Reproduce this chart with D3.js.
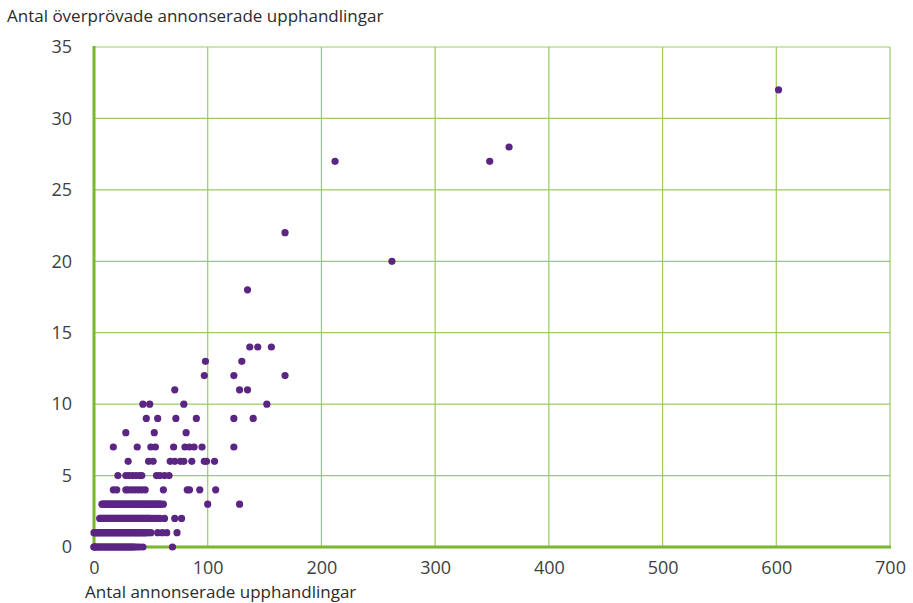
<!DOCTYPE html>
<head>
  <meta charset="utf-8">
  <title>Överprövade upphandlingar</title>
  <style>
    body { margin: 0; background: #fff; }
    .grid line { stroke: #9ccb5e; stroke-width: 1.2px; }
    .axisline { stroke: #79b72c; stroke-width: 3px; }
    .tick text { font: 18px "Open Sans", sans-serif; fill: #3f3f3f; }
    .title { font: 17px "Open Sans", sans-serif; fill: #2b2b2b; }
    .dot { fill: #5b2583; }
  </style>
</head>
<body>
  <div id="chart"></div>
  <script src="https://cdnjs.cloudflare.com/ajax/libs/d3/7.8.5/d3.min.js"></script>
  <script>
    // antal annonserade upphandlingar per nivå av antal överprövade
    var over0 = [0,0,1,1,2,3,4,5,6,7,8,9,10,11,12,13,14,15,16,17,18,19,20,21,22,23,24,25,26,27,28,29,30,31,32,33,34,35,36,38,40,43,69];
    var over1 = [0,1,2,3,4,5,6,7,8,9,10,11,12,13,14,15,16,17,18,19,20,21,22,23,24,25,26,27,28,29,30,31,32,33,34,35,36,37,38,39,40,41,42,43,44,45,46,48,50,56,60,64,73];
    var over2 = [5,6,7,8,9,10,11,12,13,14,15,16,17,18,19,20,21,22,23,24,25,26,27,28,29,30,31,32,33,34,35,36,37,38,39,40,41,42,43,44,45,46,47,48,49,50,52,54,56,58,62,71,77];
    var over3 = [7,8,9,10,11,12,13,14,15,16,17,18,19,20,21,22,23,24,25,26,27,28,29,30,31,32,33,34,35,36,37,38,39,40,41,42,43,44,45,46,47,48,49,50,51,52,53,54,55,56,57,58,59,61,100,128];
    var over4 = [17,20,28,30,33,36,39,42,45,61,82,84,93,107];
    var over5 = [21,28,31,34,37,40,42,55,58,62,66];
    var over6 = [30,48,52,67,71,76,79,86,97,99,106];
    var over7 = [17,38,50,54,70,80,84,88,95,123];
    var over8 = [28,53,81];
    var over9 = [46,56,72,90,123,140];
    var over10 = [43,49,79,152];
    var over11 = [71,128,135];
    var over12 = [97,123,168];
    var over13 = [98,130];
    var over14 = [137,144,156];
    var over18 = [135];
    var over20 = [262];
    var over22 = [168];
    var over27 = [212,348];
    var over28 = [365];
    var over32 = [602];

    var xTicks = [0,100,200,300,400,500,600,700];
    var yTicks = [0,5,10,15,20,25,30,35];
    var yTitle = "Antal överprövade annonserade upphandlingar";
    var xTitle = "Antal annonserade upphandlingar";

    var rader = [
      [0, over0], [1, over1], [2, over2], [3, over3], [4, over4], [5, over5],
      [6, over6], [7, over7], [8, over8], [9, over9], [10, over10], [11, over11],
      [12, over12], [13, over13], [14, over14], [18, over18], [20, over20],
      [22, over22], [27, over27], [28, over28], [32, over32]
    ];
    var punkter = [];
    rader.forEach(function(r) {
      r[1].forEach(function(x) { punkter.push({x: x, y: r[0]}); });
    });

    var width = 913, height = 603;
    var margin = {top: 47, right: 23, bottom: 56, left: 94};

    var svg = d3.select("#chart")
        .append("svg")
        .attr("width", width)
        .attr("height", height);

    var x = d3.scaleLinear().domain([0, 700]).range([margin.left, width - margin.right]);
    var y = d3.scaleLinear().domain([0, 35]).range([height - margin.bottom, margin.top]);

    // rutnät
    var grid = svg.append("g").attr("class", "grid");
    grid.selectAll(".v").data(xTicks.slice(1)).enter().append("line")
        .attr("x1", function(d) { return x(d); })
        .attr("x2", function(d) { return x(d); })
        .attr("y1", y(0)).attr("y2", y(35));
    grid.selectAll(".h").data(yTicks.slice(1)).enter().append("line")
        .attr("x1", x(0)).attr("x2", x(700))
        .attr("y1", function(d) { return y(d); })
        .attr("y2", function(d) { return y(d); });

    var xAxis = svg.append("g")
        .attr("transform", "translate(0," + y(0) + ")")
        .call(d3.axisBottom(x).tickValues(xTicks).tickSize(0).tickPadding(14));
    var yAxis = svg.append("g")
        .attr("transform", "translate(" + x(0) + ",0)")
        .call(d3.axisLeft(y).tickValues(yTicks).tickSize(0).tickPadding(22));
    xAxis.select(".domain").remove();
    yAxis.select(".domain").remove();

    svg.append("line").attr("class", "axisline")
        .attr("x1", x(0)).attr("x2", x(0))
        .attr("y1", y(35) - 1).attr("y2", y(0) + 1.5);
    svg.append("line").attr("class", "axisline")
        .attr("x1", x(0) - 1.5).attr("x2", x(700) + 1)
        .attr("y1", y(0)).attr("y2", y(0));

    svg.selectAll(".dot")
        .data(punkter)
        .enter().append("circle")
        .attr("class", "dot")
        .attr("cx", function(d) { return x(d.x); })
        .attr("cy", function(d) { return y(d.y); })
        .attr("r", 3.6);

    svg.append("text").attr("class", "title")
        .attr("x", 7).attr("y", 22).text(yTitle);
    svg.append("text").attr("class", "title")
        .attr("x", 85).attr("y", 598).text(xTitle);
  </script>
</body>
